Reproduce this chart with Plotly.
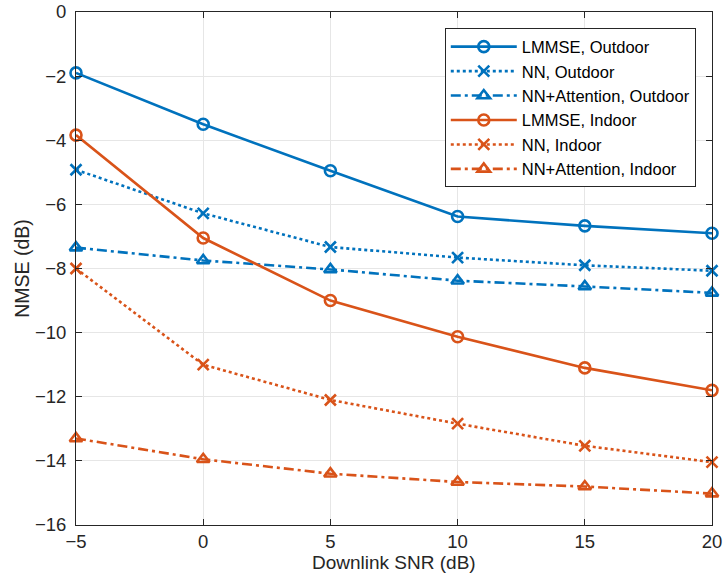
import plotly.graph_objects as go

snr = [-5, 0, 5, 10, 15, 20]
lmmse_out = [-1.9, -3.5, -4.95, -6.38, -6.67, -6.9]
nn_out = [-4.92, -6.28, -7.33, -7.66, -7.9, -8.07]
nnatt_out = [-7.35, -7.75, -8.03, -8.38, -8.56, -8.76]
lmmse_in = [-3.84, -7.05, -9.0, -10.13, -11.1, -11.8]
nn_in = [-8.0, -11.0, -12.1, -12.84, -13.53, -14.04]
nnatt_in = [-13.3, -13.95, -14.4, -14.66, -14.8, -15.02]

names = ["LMMSE, Outdoor", "NN, Outdoor", "NN+Attention, Outdoor",
         "LMMSE, Indoor", "NN, Indoor", "NN+Attention, Indoor"]
ys = [lmmse_out, nn_out, nnatt_out, lmmse_in, nn_in, nnatt_in]
x_title = "Downlink SNR (dB)"
y_title = "NMSE (dB)"

BLUE = "#0072BD"
ORANGE = "#D95319"
colors = [BLUE, BLUE, BLUE, ORANGE, ORANGE, ORANGE]
dashes = ["solid", "dot", "10px,4px,3px,4px", "solid", "dot", "10px,4px,3px,4px"]
symbols = ["circle-open", "x-thin-open", "triangle-up-open"] * 2

FONT = "Liberation Sans, Arial, sans-serif"
INK = "#262626"

fig = go.Figure()
for n, y, c, d, s in zip(names, ys, colors, dashes, symbols):
    fig.add_trace(go.Scatter(
        x=snr, y=y, name=n, mode="lines+markers", cliponaxis=False,
        line=dict(color=c, width=2.6, dash=d),
        marker=dict(symbol=s, size=11, color=c, line=dict(color=c, width=2.6)),
    ))

axis_common = dict(
    showline=True, linecolor=INK, linewidth=1, mirror="ticks",
    ticks="inside", ticklen=6, tickcolor=INK, tickwidth=1,
    showgrid=True, gridcolor="#e6e6e6", gridwidth=1,
    zeroline=False, automargin=False, ticklabeloverflow="allow",
    tickfont=dict(family=FONT, size=18.5, color=INK),
)

fig.update_layout(
    width=723, height=577,
    margin=dict(l=76, r=11, t=12, b=52),
    paper_bgcolor="white", plot_bgcolor="white",
    xaxis=dict(range=[-5, 20], tickvals=[-5, 0, 5, 10, 15, 20],
               ticklabelstandoff=0, **axis_common),
    yaxis=dict(range=[-16, 0], tickvals=list(range(-16, 1, 2)),
               ticklabelstandoff=5, **axis_common),
    legend=dict(
        x=0.9745, y=0.968, xanchor="right", yanchor="top",
        bgcolor="white", bordercolor=INK, borderwidth=1,
        font=dict(family=FONT, size=16.5, color="#000000"),
        itemwidth=66, tracegroupgap=0,
    ),
    showlegend=True,
    annotations=[
        dict(text=x_title, xref="paper", yref="paper", x=0.5, y=-0.073,
             xanchor="center", yanchor="middle", showarrow=False,
             font=dict(family=FONT, size=19, color=INK)),
        dict(text=y_title, xref="paper", yref="paper", x=-0.086, y=0.5,
             xanchor="center", yanchor="middle", showarrow=False, textangle=-90,
             font=dict(family=FONT, size=19.5, color=INK)),
    ],
)

fig.write_html("out.html", config={"displayModeBar": False},
               post_script="document.body.style.margin='0';")
